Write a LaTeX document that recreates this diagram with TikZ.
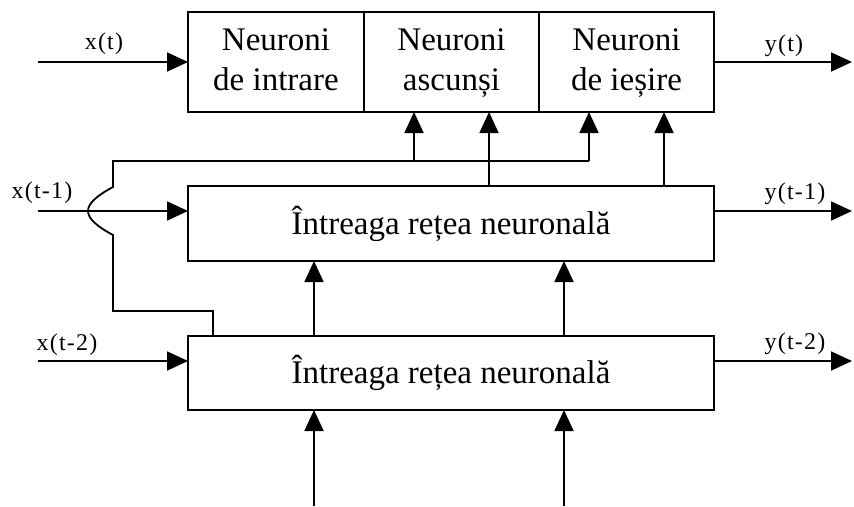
\documentclass[tikz,border=0pt]{standalone}
\usepackage{fontspec}
\setmainfont{Liberation Serif}
\usetikzlibrary{arrows.meta}
\begin{document}
\begin{tikzpicture}[x=1pt,y=-1pt,
  every node/.style={inner sep=0pt,outer sep=0pt},
  blk/.style={draw,line width=1.8pt,minimum height=#1,align=center,
    font=\fontsize{33}{40}\selectfont},
  conn/.style={line width=1.8pt},
  arr/.style={conn,-{Triangle[length=21pt,width=19pt]}},
  lbl/.style={font=\fontsize{24}{26}\selectfont\addfontfeature{LetterSpace=5}}]
\useasboundingbox (0,0) rectangle (854,506);

% the three blocks of the current step
\node[blk=100pt,minimum width=176pt] (in)  at (276,62)   {Neuroni\strut\\de intrare\strut};
\node[blk=100pt,minimum width=175pt] (hid) at (451.5,62) {Neuroni\strut\\ascunși\strut};
\node[blk=100pt,minimum width=175pt] (out) at (626.5,62) {Neuroni\strut\\de ieșire\strut};

% whole network at t-1 and t-2
\node[blk=75pt,minimum width=526pt] (mid) at (451,223.5) {Întreaga rețea neuronală};
\node[blk=74pt,minimum width=526pt] (bot) at (451,373)   {Întreaga rețea neuronală};

% free ends
\coordinate (xt)  at (38,62);
\coordinate (yt)  at (852,62);
\coordinate (xt1) at (38,211);
\coordinate (yt1) at (852,211);
\coordinate (xt2) at (38,361);
\coordinate (yt2) at (852,361);
\coordinate (fa)  at (314,506);
\coordinate (fb)  at (564,506);

% inputs and outputs
\draw[arr] (xt) -- (in.west);
\draw[arr] (out.east) -- (yt);
\draw[arr] (xt1) -- (mid.west |- xt1);
\draw[arr] (mid.east |- yt1) -- (yt1);
\draw[arr] (xt2) -- (bot.west |- xt2);
\draw[arr] (bot.east |- yt2) -- (yt2);

\node[lbl] (lxt)  at (104,44)  {x(t)};
\node[lbl] (lyt)  at (784,46)  {y(t)};
\node[lbl] (lxt1) at (42,193)  {x(t-1)};
\node[lbl] (lyt1) at (795,194) {y(t-1)};
\node[lbl] (lxt2) at (67,345)  {x(t-2)};
\node[lbl] (lyt2) at (795,344) {y(t-2)};

% links between the stages
\draw[arr] (mid.north -| 489,0) -- (hid.south -| 489,0);
\draw[arr] (mid.north -| 664,0) -- (out.south -| 664,0);
\draw[arr] (bot.north -| 314,0) -- (mid.south -| 314,0);
\draw[arr] (bot.north -| 564,0) -- (mid.south -| 564,0);
\draw[arr] (fa) -- (bot.south -| fa);
\draw[arr] (fb) -- (bot.south -| fb);

% feedback line that hops over the x(t-1) input
\coordinate (fbS) at (213,311);
\coordinate (fbL) at (113,161);
\draw[conn] (bot.north -| fbS) -- (fbS) -- (113,311) -- (113,235)
  .. controls (98,227) and (88,219) .. (88,211)
  .. controls (88,203) and (98,195) .. (113,187) -- (fbL) -- (589,161);
\draw[arr] (589,161) -- (out.south -| 589,0);
\draw[arr] (414,161) -- (hid.south -| 414,0);
\end{tikzpicture}
\end{document}
